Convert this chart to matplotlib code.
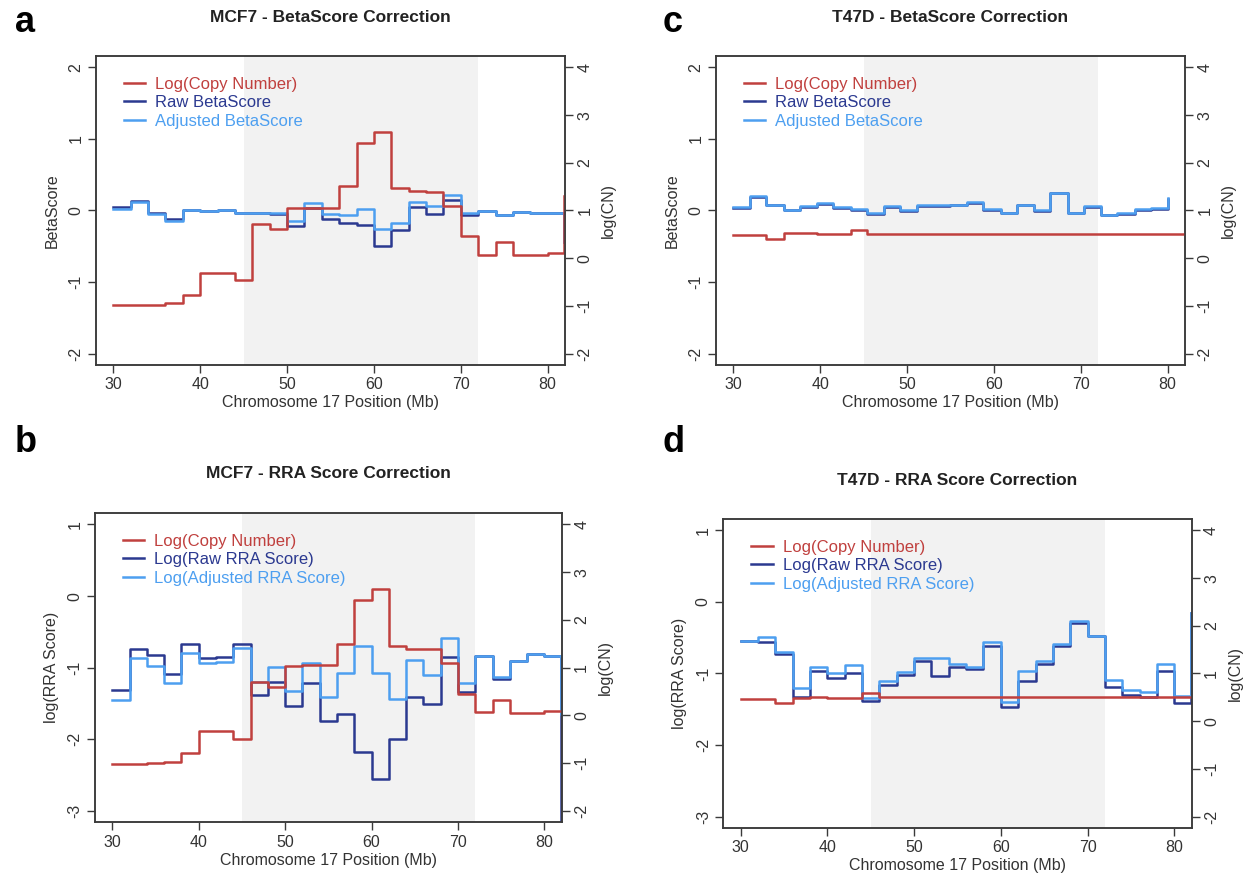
import numpy as np
import matplotlib.pyplot as plt

plt.rcParams['font.family'] = ['Liberation Sans', 'DejaVu Sans']
plt.rcParams['axes.unicode_minus'] = False

# positions along chromosome 17 (Mb)
pos_mcf7 = [30, 32, 34, 36, 38, 40, 42, 44, 46, 48, 50, 52, 54, 56, 58,
            60, 62, 64, 66, 68, 70, 72, 74, 76, 78, 80, 81.9]
pos_t47d = [30, 31.9, 33.8, 35.8, 37.7, 39.6, 41.5, 43.5, 45.4, 47.3, 49.2,
            51.2, 53.1, 55.0, 56.9, 58.8, 60.8, 62.7, 64.6, 66.5, 68.5, 70.4,
            72.3, 74.2, 76.2, 78.1, 80.0]
pos_t47d_cn = pos_t47d + [81.9]

# MCF7 BetaScore (panel a)
beta_raw_mcf7 = [0.05, 0.13, -0.03, -0.12, 0.01, -0.01, 0.01, -0.03, -0.04, -0.05,
                 -0.22, 0.04, -0.12, -0.18, -0.21, -0.50, -0.28, 0.05, -0.05, 0.14,
                 -0.06, -0.01, -0.07, -0.02, -0.03, -0.04, -0.44]
beta_adj_mcf7 = [0.02, 0.12, -0.05, -0.15, 0.01, -0.01, 0.01, -0.03, -0.03, -0.03,
                 -0.15, 0.11, -0.05, -0.07, 0.02, -0.26, -0.17, 0.12, 0.06, 0.21,
                 -0.03, -0.01, -0.06, -0.02, -0.03, -0.04, -0.44]
cn_a = [-0.99, -0.99, -0.98, -0.94, -0.77, -0.31, -0.31, -0.46, 0.72, 0.61,
        1.06, 1.06, 1.06, 1.51, 2.41, 2.65, 1.48, 1.40, 1.38, 1.10,
        0.46, 0.07, 0.33, 0.06, 0.06, 0.10, 1.31]

# MCF7 RRA score (panel b)
rra_raw_mcf7 = [-1.31, -0.74, -0.82, -1.09, -0.67, -0.86, -0.85, -0.67, -1.38, -1.20,
                -1.54, -1.21, -1.74, -1.64, -2.17, -2.55, -2.00, -1.41, -1.51, -0.85,
                -1.34, -0.83, -1.16, -0.90, -0.81, -0.84, -3.5]
rra_adj_mcf7 = [-1.45, -0.86, -0.97, -1.21, -0.79, -0.94, -0.92, -0.72, -1.20, -0.99,
                -1.32, -0.93, -1.41, -1.08, -0.69, -1.08, -1.44, -0.89, -1.10, -0.58,
                -1.21, -0.83, -1.13, -0.90, -0.81, -0.84, -1.64]
cn_b = [-1.02, -1.02, -1.00, -0.97, -0.79, -0.33, -0.33, -0.49, 0.71, 0.59,
        1.04, 1.06, 1.06, 1.50, 2.42, 2.64, 1.46, 1.39, 1.39, 1.09,
        0.46, 0.08, 0.32, 0.06, 0.06, 0.10, 0.10]

# T47D BetaScore (panel c)
beta_raw_t47d = [0.04, 0.19, 0.07, 0.00, 0.05, 0.09, 0.04, 0.01, -0.05, 0.05,
                 -0.01, 0.06, 0.06, 0.07, 0.11, 0.01, -0.04, 0.07, -0.01, 0.24,
                 -0.04, 0.05, -0.07, -0.05, 0.01, 0.02, 0.16]
beta_adj_t47d = [0.05, 0.20, 0.08, 0.01, 0.06, 0.10, 0.05, 0.02, -0.04, 0.06,
                 0.00, 0.07, 0.07, 0.08, 0.12, 0.02, -0.03, 0.08, 0.00, 0.25,
                 -0.03, 0.06, -0.06, -0.04, 0.02, 0.03, 0.18]
cn_c = [0.48, 0.48, 0.41, 0.53, 0.53, 0.51, 0.50, 0.60, 0.51, 0.51,
        0.51, 0.51, 0.51, 0.51, 0.51, 0.51, 0.51, 0.51, 0.51, 0.51,
        0.51, 0.51, 0.51, 0.51, 0.51, 0.51, 0.51, 0.51]

# T47D RRA score (panel d)
rra_raw_t47d = [-0.55, -0.56, -0.73, -1.33, -0.97, -1.06, -0.99, -1.39, -1.16, -1.02,
                -0.82, -1.03, -0.91, -0.94, -0.61, -1.47, -1.11, -0.87, -0.61, -0.29,
                -0.48, -1.19, -1.30, -1.33, -0.97, -1.41, -0.16]
rra_adj_t47d = [-0.55, -0.49, -0.70, -1.21, -0.91, -0.99, -0.88, -1.34, -1.10, -0.98,
                -0.78, -0.79, -0.87, -0.91, -0.56, -1.40, -0.97, -0.82, -0.59, -0.27,
                -0.47, -1.09, -1.23, -1.26, -0.87, -1.31, -0.16]
cn_d = [0.46, 0.46, 0.39, 0.48, 0.50, 0.49, 0.48, 0.60, 0.50, 0.50,
        0.50, 0.50, 0.50, 0.50, 0.50, 0.50, 0.50, 0.50, 0.50, 0.50,
        0.50, 0.50, 0.50, 0.50, 0.50, 0.50, 0.50]

beta_labels = ["Log(Copy Number)", "Raw BetaScore", "Adjusted BetaScore"]
rra_labels = ["Log(Copy Number)", "Log(Raw RRA Score)", "Log(Adjusted RRA Score)"]

red = "#c0403e"
navy = "#2b3990"
sky = "#4d9ff0"
shade = "#f2f2f2"
axcol = "#3a3a3a"
txtcol = "#333333"


def style_ax(ax):
    for s in ax.spines.values():
        s.set_color(axcol)
        s.set_linewidth(1.1)
    ax.tick_params(axis="both", direction="out", length=6, width=1, color=axcol,
                   labelsize=11.5, labelcolor=txtcol, pad=3)
    ax.tick_params(axis="y", labelrotation=90)
    for t in ax.get_yticklabels():
        t.set_va("center")


def make_panel(fig, rect, pos, raw, adj, cn_pos, cn, ylim, yticks, ylabel,
               labels, title, letter, title_y, letter_xy, leg_anchor):
    ax = fig.add_axes(rect)
    ax.axvspan(45, 72, color=shade, lw=0, zorder=0)
    h_raw, = ax.step(pos, raw, where="post", color=navy, lw=1.8, label=labels[1])
    h_adj, = ax.step(pos, adj, where="post", color=sky, lw=1.8, label=labels[2])
    ax.set_xlim(28, 82)
    ax.set_ylim(ylim)
    ax.set_yticks(yticks)
    ax.set_xticks([30, 40, 50, 60, 70, 80])
    ax.set_xlabel("Chromosome 17 Position (Mb)", fontsize=11.5, color=txtcol, labelpad=2)
    ax.set_ylabel(ylabel, fontsize=11.5, color=txtcol, labelpad=6)
    style_ax(ax)

    ax2 = ax.twinx()
    h_cn, = ax2.step(cn_pos, cn, where="post", color=red, lw=1.8, label=labels[0])
    ax2.set_ylim(-2.24, 4.24)
    ax2.set_yticks([-2, -1, 0, 1, 2, 3, 4])
    ax2.set_ylabel("log(CN)", fontsize=11.5, color=txtcol, labelpad=6)
    style_ax(ax2)

    ax2.legend(handles=[h_cn, h_raw, h_adj], loc="upper left",
               bbox_to_anchor=leg_anchor, frameon=False, fontsize=12,
               handlelength=1.3, handletextpad=0.6, labelspacing=0.22,
               labelcolor="linecolor", borderaxespad=0)

    cx = rect[0] + rect[2] / 2
    fig.text(cx, title_y, title, ha="center", va="center", fontsize=12.5,
             fontweight="bold", color="#222222")
    fig.text(letter_xy[0], letter_xy[1], letter, ha="left", va="center",
             fontsize=26, fontweight="bold", color="black")
    return ax, ax2


fig = plt.figure(figsize=(12.55, 8.88), dpi=100)

make_panel(fig, [0.0765, 0.589, 0.3737, 0.348], pos_mcf7, beta_raw_mcf7, beta_adj_mcf7,
           pos_mcf7, cn_a, (-2.16, 2.16), [-2, -1, 0, 1, 2], "BetaScore",
           beta_labels, "MCF7 - BetaScore Correction", "a", 1 - 17 / 888,
           (0.012, 1 - 22 / 888), (0.045, 0.955))
make_panel(fig, [0.0757, 0.0738, 0.3719, 0.3485], pos_mcf7, rra_raw_mcf7, rra_adj_mcf7,
           pos_mcf7, cn_b, (-3.16, 1.16), [-3, -2, -1, 0, 1], "log(RRA Score)",
           rra_labels, "MCF7 - RRA Score Correction", "b", 1 - 473 / 888,
           (0.012, 1 - 442 / 888), (0.045, 0.955))
make_panel(fig, [0.5705, 0.589, 0.3737, 0.348], pos_t47d, beta_raw_t47d, beta_adj_t47d,
           pos_t47d_cn, cn_c, (-2.16, 2.16), [-2, -1, 0, 1, 2], "BetaScore",
           beta_labels, "T47D - BetaScore Correction", "c", 1 - 17 / 888,
           (0.528, 1 - 22 / 888), (0.045, 0.955))
make_panel(fig, [0.5763, 0.0676, 0.3732, 0.348], pos_mcf7, rra_raw_t47d, rra_adj_t47d,
           pos_mcf7, cn_d, (-3.16, 1.16), [-3, -2, -1, 0, 1], "log(RRA Score)",
           rra_labels, "T47D - RRA Score Correction", "d", 1 - 480 / 888,
           (0.528, 1 - 442 / 888), (0.045, 0.955))

fig.savefig("out.png", dpi=100)
